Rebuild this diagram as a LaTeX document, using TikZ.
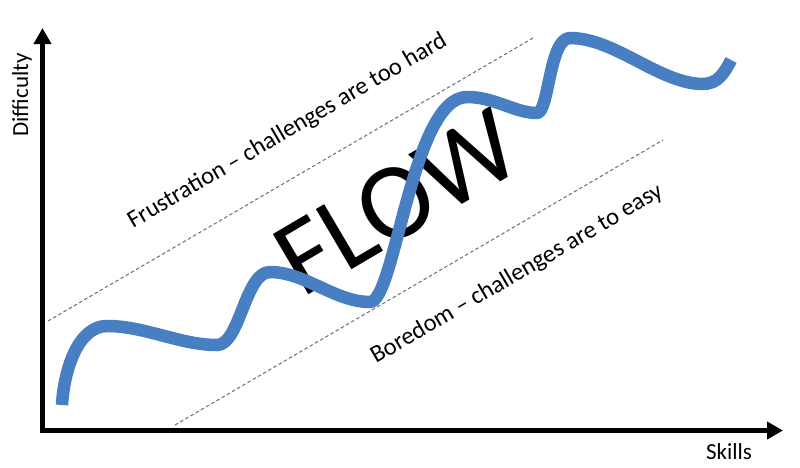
\documentclass[tikz,border=0pt]{standalone}
\usepackage{fontspec}
\setmainfont{Carlito}
\usetikzlibrary{arrows.meta}
\definecolor{flowblue}{RGB}{72,126,194}
\definecolor{dashgray}{RGB}{110,110,110}
\begin{document}
\begin{tikzpicture}[x=1pt,y=-1pt,
  axis/.style={line width=4.5pt,black,{Triangle[length=16pt,width=17pt]}-{Triangle[length=16pt,width=17pt]}},
  zoneline/.style={dashgray,line width=1pt,dash pattern=on 3.5pt off 2.5pt},
  zonelabel/.style={inner sep=0pt,anchor=base west,rotate=30.3,font=\fontsize{24.5}{29}\selectfont},
  axislabel/.style={inner sep=0pt,font=\fontsize{23}{28}\selectfont},
  flowtext/.style={inner sep=0pt,anchor=base west,rotate=30.5,font=\fontsize{109}{116}\selectfont},
  flowcurve/.style={flowblue,line width=12.5pt,line cap=butt,line join=round}]
\useasboundingbox[fill=white] (0,0) rectangle (800,467);
% dashed zone boundaries
\coordinate (fa) at (48,321);
\coordinate (fb) at (533,38);
\coordinate (ba) at (175,425);
\coordinate (bb) at (663,140);
\draw[zoneline] (fa) -- (fb);
\draw[zoneline] (ba) -- (bb);
% zone labels
\node[zonelabel] (frus) at (133,229) {Frustration – challenges are too hard};
\node[zonelabel] (bore) at (376,364) {Boredom – challenges are to easy};
% FLOW
\node[flowtext] (flow) at (302,299) {FLOW};
% curve
\draw[flowcurve] (62,405) .. controls (64,370) and (78,326) .. (107,326)
  .. controls (145,326) and (180,345) .. (217,345)
  .. controls (240,345) and (245,272) .. (270,272)
  .. controls (305,272) and (335,302) .. (370,302)
  .. controls (395,302) and (412,97) .. (467,97)
  .. controls (495,97) and (515,113) .. (537,113)
  .. controls (549,113) and (549,38) .. (570,38)
  .. controls (615,38) and (660,84) .. (703,84)
  .. controls (718,84) and (725,72) .. (731,60);
% axes
\coordinate (ytip) at (42.5,28);
\coordinate (orig) at (42.5,430.5);
\coordinate (xtip) at (783,430.5);
\draw[axis] (ytip) -- (orig) -- (xtip);
\node[axislabel,rotate=90] (ylab) at (22,95) {Difficulty};
\node[axislabel] (xlab) at (729,452) {Skills};
\end{tikzpicture}
\end{document}
